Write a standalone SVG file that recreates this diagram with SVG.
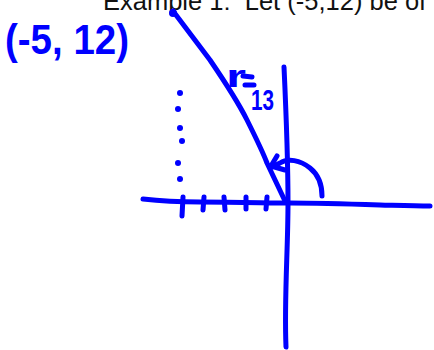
<svg xmlns="http://www.w3.org/2000/svg" width="434" height="350" viewBox="0 0 434 350">
<style>
.ink{fill:none;stroke:#0000ff;stroke-width:5;stroke-linecap:round;stroke-linejoin:round}
.dot{fill:#0000ff}
.hand{fill:#0000ff;font-family:"Liberation Sans",Arial,sans-serif;font-weight:bold}
.print{fill:#111;font-family:"Liberation Sans",Arial,sans-serif}
</style>
<rect width="434" height="350" fill="#fff"/>
<text class="print" x="103" y="10" font-size="25.5" xml:space="preserve">Example 1:  Let (-5,12) be of</text>
<text class="hand" x="5" y="54" font-size="42" textLength="124" lengthAdjust="spacingAndGlyphs">(-5, 12)</text>
<g id="x-axis"><path class="ink" d="M143,199 C160,201 175,202 200,202 C240,202 270,203 290,203 C320,203 350,204 380,205 C400,205.5 415,206 430,206"/></g>
<g id="y-axis"><path class="ink" d="M284,67 C286,110 288,160 288,203 C288,250 284,300 286,347"/></g>
<g id="ticks">
<path class="ink" d="M183,197 L182,216"/>
<path class="ink" d="M204,197 L203,210"/>
<path class="ink" d="M224,197 L225,210"/>
<path class="ink" d="M246,197 L246,209"/>
<path class="ink" d="M267,197 L266,209"/>
</g>
<g id="dots">
<circle class="dot" cx="180" cy="93" r="3"/>
<circle class="dot" cx="178" cy="109" r="3"/>
<circle class="dot" cx="180" cy="128" r="3"/>
<circle class="dot" cx="182" cy="141" r="3"/>
<circle class="dot" cx="178" cy="163" r="3"/>
<circle class="dot" cx="180" cy="179" r="3"/>
</g>
<g id="ray"><path class="ink" d="M173,11 L210,60 C225,82 238,102 247,120 C255,136 262,150 267,163 L285,201"/><circle class="dot" cx="173" cy="13" r="4"/></g>
<g id="angle-arc"><path class="ink" d="M322,196 C322,186 320,176 310,168 C300,160 288,158 280,163 L272,167"/><path class="ink" d="M277,156 L271,166 L285,170"/></g>
<text class="hand" x="226" y="87" font-size="32" textLength="20" lengthAdjust="spacingAndGlyphs">r</text>
<path class="ink" d="M243,76 L252,77 M245,85 L254,85" stroke-width="3.5"/>
<text class="hand" x="251" y="110" font-size="30" textLength="23" lengthAdjust="spacingAndGlyphs">13</text>
</svg>
